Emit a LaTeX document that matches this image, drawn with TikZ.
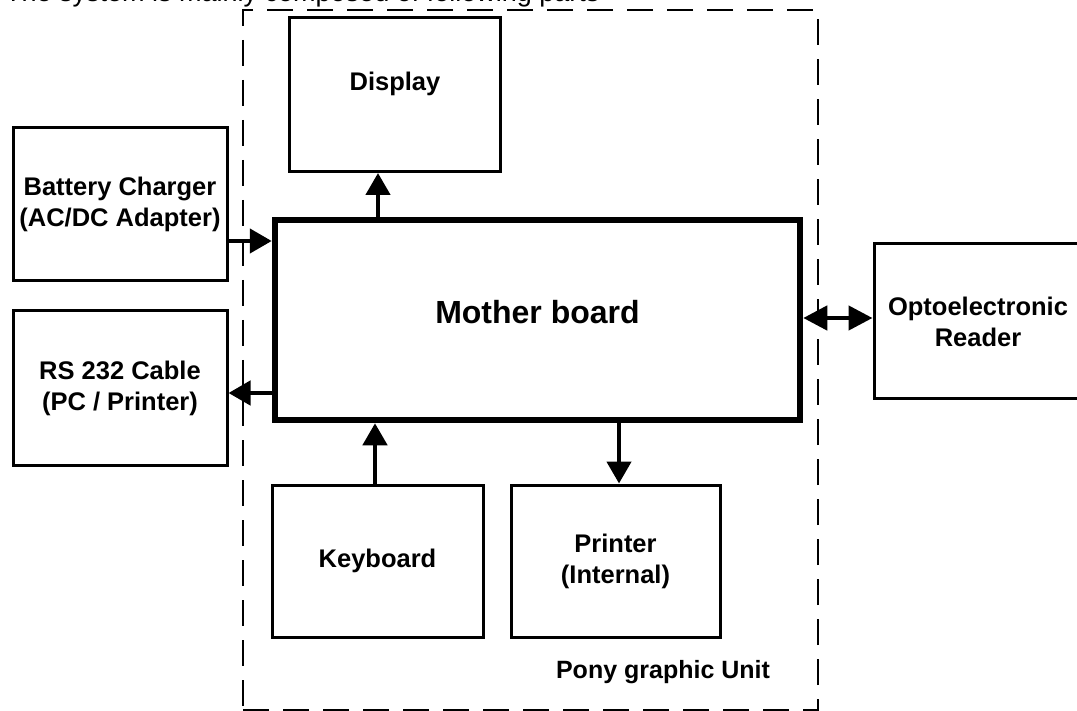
\documentclass[tikz,border=0pt]{standalone}
\usepackage{fontspec}
\setmainfont{Liberation Sans}
\usetikzlibrary{arrows.meta}
\begin{document}
\begin{tikzpicture}[x=1pt,y=-1pt,
  box/.style={draw=black, line width=3pt, inner sep=0pt, align=center,
    font=\fontsize{25.5}{31}\selectfont\bfseries},
  mbbox/.style={draw=black, line width=6.5pt, inner sep=0pt,
    font=\fontsize{32}{38}\selectfont\bfseries},
  unitbox/.style={draw=black, line width=2pt, dash pattern=on 26pt off 14pt, inner sep=0pt},
  lbl/.style={inner sep=0pt, font=\fontsize{25}{30}\selectfont\bfseries},
  arr/.style={line width=4.5pt, -{Triangle[length=22pt,width=24pt]}},
  darr/.style={line width=4.5pt, {Triangle[length=24pt,width=24pt]}-{Triangle[length=24pt,width=24pt]}}
]
\useasboundingbox (0,0) rectangle (1077,711);
\clip (0,0) rectangle (1077,711);
\fill[white] (0,0) rectangle (1077,711);

% partly visible heading
\node[anchor=base west, inner sep=0pt, font=\fontsize{27}{32}\selectfont] (title) at (5,2)
  {The system is mainly composed of following parts};

% dashed unit frame
\node[unitbox, minimum width=575pt, minimum height=700pt] (unit) at (530.5,360) {};
\node[lbl, anchor=base] (unitlbl) at (663,678) {Pony graphic Unit};

% boxes
\node[box, minimum width=214pt, minimum height=153pt] (bat) at (120,204.5)
  {Battery Charger\\(AC/DC Adapter)};
\node[box, minimum width=214pt, minimum height=154pt] (rs) at (120,388)
  {RS 232 Cable\\(PC / Printer)};
\node[box, minimum width=211pt, minimum height=154pt, text height=18pt, text depth=25pt] (disp) at (395,94.5)
  {Display};
\node[mbbox, minimum width=525pt, minimum height=200pt, text height=23pt, text depth=15pt] (mb) at (537.5,320)
  {Mother board};
\node[box, minimum width=211pt, minimum height=152pt] (kb) at (377.5,561) {Keyboard};
\node[box, minimum width=209pt, minimum height=152pt] (pr) at (615.5,561) {Printer\\(Internal)};
\node[box, minimum width=208pt, minimum height=155pt] (opt) at (978,321.5) {Optoelectronic\\Reader};

% connector guide coordinates
\coordinate (dispX) at (378,0);
\coordinate (batY) at (0,241);
\coordinate (rsY) at (0,393);
\coordinate (optY) at (0,318);
\coordinate (kbX) at (375,0);
\coordinate (prX) at (619,0);

% connectors
\draw[arr] (mb.north -| dispX) -- (disp.south -| dispX);
\draw[arr] (bat.east |- batY) -- (mb.west |- batY);
\draw[arr] (mb.west |- rsY) -- (rs.east |- rsY);
\draw[darr] (mb.east |- optY) -- (opt.west |- optY);
\draw[arr] (kb.north -| kbX) -- (mb.south -| kbX);
\draw[arr] (mb.south -| prX) -- (pr.north -| prX);
\end{tikzpicture}
\end{document}
